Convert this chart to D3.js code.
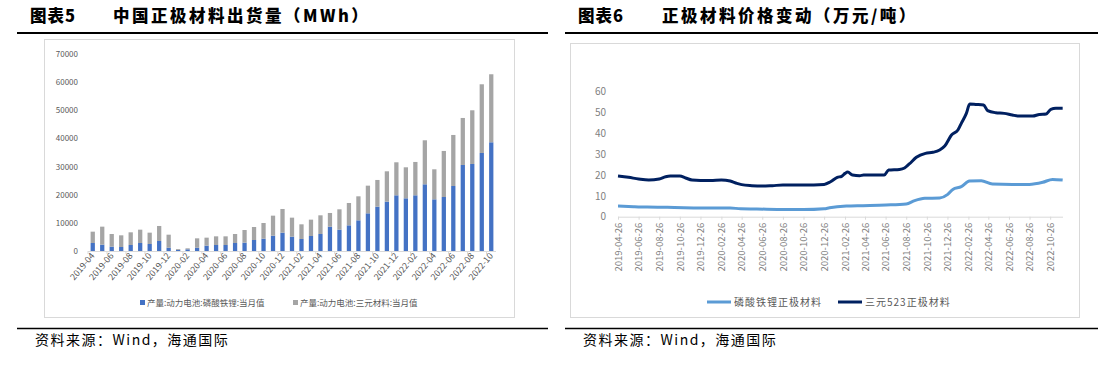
<!DOCTYPE html>
<html>
<head>
<meta charset="utf-8">
<script src="https://cdn.jsdelivr.net/npm/d3@7"></script>
<style>
  body { margin: 0; background: #fff; }
  svg text { font-family: "Noto Sans CJK SC", "Noto Sans", sans-serif; }
</style>
</head>
<body>
<svg id="chart" width="1109" height="373"></svg>
<script>
// 左图：月份与两类正极材料出货量 (MWh)
const months = ["2019-04","2019-05","2019-06","2019-07","2019-08","2019-09","2019-10","2019-11","2019-12",
  "2020-01","2020-02","2020-03","2020-04","2020-05","2020-06","2020-07","2020-08","2020-09","2020-10","2020-11","2020-12",
  "2021-01","2021-02","2021-03","2021-04","2021-05","2021-06","2021-07","2021-08","2021-09","2021-10","2021-11","2021-12",
  "2022-01","2022-02","2022-03","2022-04","2022-05","2022-06","2022-07","2022-08","2022-09","2022-10"];
const lfp = [2840,2250,1540,1420,2130,2840,2490,3550,1180,400,600,1180,1900,2130,2130,2840,2960,3910,4380,5450,6520,
  5090,4270,5330,6040,8650,7580,9120,10900,13390,15760,17540,19790,18720,19790,23700,18360,19190,23100,30570,30920,34830,38630];
const ternary = [4030,6400,4500,4150,4510,4740,4030,5340,4620,300,350,3320,2840,3080,3080,3200,4500,4620,5570,7110,8410,
  6760,5210,5810,6640,4860,7230,7940,8530,9830,9480,10780,11730,11020,11850,15640,10670,16360,18130,16700,19080,24410,24170];
const barTicks = [0,10000,20000,30000,40000,50000,60000,70000];

// 右图：价格 (万元/吨)
const lfpDates = ["2019-04-26","2019-06-11","2019-07-21","2019-09-19","2019-11-07","2019-12-26","2020-03-23","2020-04-23",
  "2020-06-10","2020-08-09","2020-10-26","2020-12-26","2021-01-11","2021-03-02","2021-04-20","2021-06-27","2021-08-26",
  "2021-09-20","2021-10-20","2021-12-03","2021-12-27","2022-01-11","2022-02-05","2022-03-01","2022-04-05","2022-05-08",
  "2022-07-06","2022-08-25","2022-10-04","2022-11-02","2022-12-02"];
const lfpPrice = [5.1,4.8,4.6,4.5,4.3,4.2,4.2,3.8,3.7,3.5,3.4,3.8,4.3,5.1,5.3,5.6,6.1,7.7,8.8,9.0,10.7,13.1,14.4,17.1,17.3,15.7,
  15.5,15.5,16.5,17.9,17.6];
const ncmDates = ["2019-04-26","2019-05-27","2019-06-26","2019-07-26","2019-08-26","2019-09-14","2019-09-28","2019-10-26",
  "2019-11-12","2019-12-01","2019-12-26","2020-01-25","2020-02-26","2020-03-23","2020-04-12","2020-04-26","2020-05-26",
  "2020-06-26","2020-07-26","2020-08-26","2020-10-26","2020-12-26","2021-01-14","2021-02-03","2021-02-16","2021-02-26",
  "2021-03-06","2021-03-20","2021-04-10","2021-04-22","2021-06-22","2021-07-05","2021-08-06","2021-08-21","2021-09-04",
  "2021-09-25","2021-10-22","2021-11-13","2021-12-03","2021-12-18","2022-01-07","2022-01-26","2022-02-05","2022-02-20",
  "2022-03-02","2022-03-20","2022-04-12","2022-04-24","2022-05-18","2022-06-12","2022-07-06","2022-07-26","2022-09-04",
  "2022-09-24","2022-10-14","2022-10-28","2022-11-12","2022-12-02"];
const ncmPrice = [19.5,18.9,18.1,17.6,18.1,19.2,19.5,19.5,18.6,17.6,17.4,17.4,17.6,17.1,16.0,15.4,14.9,14.7,14.9,15.2,15.2,
  15.5,16.8,18.9,19.4,20.8,21.4,20.0,19.7,20.0,20.0,22.4,22.7,23.4,25.3,28.5,30.4,30.9,32.0,33.9,39.2,41.6,44.8,49.6,54.1,
  53.9,53.6,50.9,49.9,49.6,48.8,48.3,48.3,49.1,49.3,51.5,52.0,52.0];
const priceTickLabels = ["2019-04-26","2019-06-26","2019-08-26","2019-10-26","2019-12-26","2020-02-26","2020-04-26",
  "2020-06-26","2020-08-26","2020-10-26","2020-12-26","2021-02-26","2021-04-26","2021-06-26","2021-08-26","2021-10-26",
  "2021-12-26","2022-02-26","2022-04-26","2022-06-26","2022-08-26","2022-10-26"];
const priceTicks = [0,10,20,30,40,50,60];

const svg = d3.select("#chart");
const parse = d3.timeParse("%Y-%m-%d");

// ---- 标题、分隔线、资料来源 ----
function header(x0, x1, num, title, tx) {
  svg.append("text").attr("x", x0 + 13).attr("y", 22).attr("font-size", 16.5).attr("font-weight", 900)
    .attr("letter-spacing", 1).text(num);
  svg.append("text").attr("x", tx).attr("y", 22).attr("font-size", 16.5).attr("font-weight", 900)
    .attr("letter-spacing", 2.5).text(title);
  svg.append("line").attr("x1", x0).attr("x2", x1).attr("y1", 33).attr("y2", 33)
    .attr("stroke", "#000").attr("stroke-width", 2);
  svg.append("line").attr("x1", x0).attr("x2", x1).attr("y1", 328.5).attr("y2", 328.5)
    .attr("stroke", "#000").attr("stroke-width", 1.5);
  svg.append("text").attr("x", x0 + 18).attr("y", 345).attr("font-size", 14).attr("letter-spacing", 1.5)
    .text("资料来源：Wind，海通国际");
}
header(17, 548, "图表5", "中国正极材料出货量（MWh）", 113);
header(565, 1098, "图表6", "正极材料价格变动（万元/吨）", 662);

// ---- 左图：堆积柱状图 ----
svg.append("rect").attr("x", 44.5).attr("y", 39.5).attr("width", 470).attr("height", 278)
  .attr("fill", "none").attr("stroke", "#d9d9d9");

const x = d3.scaleBand().domain(months).range([88, 496]).paddingInner(0.55).paddingOuter(0.275);
const y = d3.scaleLinear().domain([0, 70000]).range([251, 54]);

const gY = svg.append("g").attr("transform", "translate(78,0)")
  .call(d3.axisLeft(y).tickValues(barTicks).tickSize(0).tickPadding(0).tickFormat(d3.format("d")));
gY.select(".domain").remove();
gY.selectAll("text").attr("font-size", 8).attr("fill", "#595959").attr("font-family", "Liberation Sans, sans-serif");

const stack = d3.stack().keys(["lfp", "ternary"])(months.map((m, i) => ({ m: m, lfp: lfp[i], ternary: ternary[i] })));
const barColor = { lfp: "#4472C4", ternary: "#A5A5A5" };
stack.forEach(layer => {
  svg.append("g").selectAll("rect").data(layer).join("rect")
    .attr("x", d => x(d.data.m))
    .attr("width", x.bandwidth())
    .attr("y", d => y(d[1]))
    .attr("height", d => y(d[0]) - y(d[1]))
    .attr("fill", barColor[layer.key]);
});

const gX = svg.append("g").attr("transform", "translate(0,251)")
  .call(d3.axisBottom(x).tickValues(months.filter((m, i) => i % 2 === 0)).tickSize(3).tickPadding(2));
gX.select(".domain").attr("stroke", "#d9d9d9").attr("d", "M88,0.5H496");
gX.selectAll(".tick line").attr("stroke", "#d9d9d9").attr("transform", `translate(${-x.step() / 2},0)`);
gX.selectAll(".tick text").attr("font-size", 8.8).attr("fill", "#595959").attr("font-family", "Liberation Sans, sans-serif")
  .attr("text-anchor", "end").attr("transform", "translate(0,3) rotate(-50)").attr("dy", "0.35em").attr("y", 0);

const legL = [["产量:动力电池:磷酸铁锂:当月值", "#4472C4", 140], ["产量:动力电池:三元材料:当月值", "#A5A5A5", 293]];
legL.forEach(d => {
  svg.append("rect").attr("x", d[2]).attr("y", 300).attr("width", 5).attr("height", 5).attr("fill", d[1]);
  svg.append("text").attr("x", d[2] + 7).attr("y", 306).attr("font-size", 8.5).attr("fill", "#595959").text(d[0]);
});

// ---- 右图：价格折线 ----
svg.append("rect").attr("x", 570.5).attr("y", 43.5).attr("width", 509).attr("height", 274)
  .attr("fill", "none").attr("stroke", "#d9d9d9");

const xt = d3.scaleTime().domain([parse("2019-04-26"), parse("2022-12-03")]).range([618, 1063]);
const yp = d3.scaleLinear().domain([0, 60]).range([216.7, 91.7]);

const gYp = svg.append("g").attr("transform", "translate(606,0)")
  .call(d3.axisLeft(yp).tickValues(priceTicks).tickSize(0).tickPadding(0));
gYp.select(".domain").remove();
gYp.selectAll("text").attr("font-size", 10).attr("fill", "#7f7f7f").attr("font-family", "Liberation Sans, sans-serif");

const gXp = svg.append("g").attr("transform", "translate(0,216.7)")
  .call(d3.axisBottom(xt).tickValues(priceTickLabels.map(parse)).tickSize(3).tickFormat(d3.timeFormat("%Y-%m-%d")));
gXp.select(".domain").attr("stroke", "#d9d9d9").attr("d", "M618,0.5H1063");
gXp.selectAll(".tick line").attr("stroke", "#d9d9d9");
gXp.selectAll(".tick text").attr("font-size", 9.5).attr("fill", "#7f7f7f").attr("font-family", "Liberation Sans, sans-serif")
  .attr("text-anchor", "end").attr("transform", "rotate(-90)").attr("x", -6).attr("y", 0).attr("dy", "0.35em");

const line = d3.line().x(d => xt(d[0])).y(d => yp(d[1])).curve(d3.curveMonotoneX);
svg.append("path").datum(lfpDates.map((d, i) => [parse(d), lfpPrice[i]]))
  .attr("d", line).attr("fill", "none").attr("stroke", "#5B9BD5").attr("stroke-width", 3).attr("stroke-linejoin", "round");
svg.append("path").datum(ncmDates.map((d, i) => [parse(d), ncmPrice[i]]))
  .attr("d", line).attr("fill", "none").attr("stroke", "#002060").attr("stroke-width", 3).attr("stroke-linejoin", "round");

const legR = [["磷酸铁锂正极材料", "#5B9BD5", 707], ["三元523正极材料", "#002060", 838]];
legR.forEach(d => {
  svg.append("line").attr("x1", d[2]).attr("x2", d[2] + 24).attr("y1", 302).attr("y2", 302)
    .attr("stroke", d[1]).attr("stroke-width", 3);
  svg.append("text").attr("x", d[2] + 27).attr("y", 305.5).attr("font-size", 10).attr("letter-spacing", 1)
    .attr("fill", "#595959").text(d[0]);
});
</script>
</body>
</html>
